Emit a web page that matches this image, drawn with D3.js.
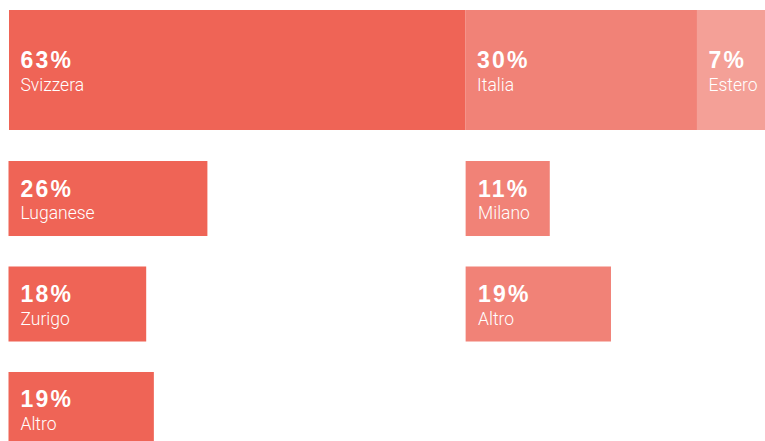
<!DOCTYPE html>
<html>
<head>
<meta charset="utf-8">
<script src="https://cdn.jsdelivr.net/npm/d3@7"></script>
<style>
html,body{margin:0;padding:0;background:#fff;}
svg{display:block;}
</style>
</head>
<body>
<svg id="chart" width="765" height="441"></svg>
<script>
// Top bar: origin of visitors
const topCategories = ["Svizzera", "Italia", "Estero"];
const topValues = [63, 30, 7];            // printed labels
const topDrawnShares = [60.4, 30.6, 9.0]; // segment widths as drawn in the picture
// Left column: breakdown of Svizzera
const leftCategories = ["Luganese", "Zurigo", "Altro"];
const leftValues = [26, 18, 19];
// Right column: breakdown of Italia
const rightCategories = ["Milano", "Altro"];
const rightValues = [11, 19];

const colors = {Svizzera: "#ef6456", Italia: "#f18277", Estero: "#f4a097"};

const svg = d3.select("#chart");
const W = 765;

// scales
const xTop = d3.scaleLinear().domain([0, 100]).range([9, W]);
const xSub = d3.scaleLinear().domain([0, 100]).range([0, W]);
const yRow = d3.scaleBand().domain([0, 1, 2]).range([161, 447]).paddingInner(0.289).paddingOuter(0);

const pctFont = "'Liberation Sans', Arial, sans-serif";
const lblFont = "Roboto, 'Liberation Sans', sans-serif";

function label(g, x, yCenter, pct, name) {
  g.append("text")
    .attr("x", x).attr("y", yCenter - 2)
    .attr("fill", "#fff")
    .attr("font-family", pctFont)
    .attr("font-weight", "bold")
    .attr("font-size", 23)
    .attr("letter-spacing", 2.2)
    .text(pct + "%");
  g.append("text")
    .attr("x", x).attr("y", yCenter + 20.5)
    .attr("fill", "#fff")
    .attr("font-family", lblFont)
    .attr("font-weight", 300)
    .attr("font-size", 17.5)
    .text(name);
}

// top stacked bar
let cum = 0;
const topData = topCategories.map((c, i) => {
  const d = {cat: c, value: topValues[i], x0: cum, x1: cum + topDrawnShares[i]};
  cum += topDrawnShares[i];
  return d;
});
const topY = 10, topH = 120;
const gTop = svg.append("g");
gTop.selectAll("rect").data(topData).join("rect")
  .attr("x", d => xTop(d.x0))
  .attr("y", topY)
  .attr("width", d => xTop(d.x1) - xTop(d.x0))
  .attr("height", topH)
  .attr("fill", d => colors[d.cat]);
topData.forEach(d => label(gTop, xTop(d.x0) + 11.5, topY + topH / 2, d.value, d.cat));

// left column
const leftX0 = xTop(0) - 0.5;
const gLeft = svg.append("g");
leftCategories.forEach((c, i) => {
  gLeft.append("rect")
    .attr("x", leftX0).attr("y", yRow(i))
    .attr("width", xSub(leftValues[i]))
    .attr("height", yRow.bandwidth())
    .attr("fill", colors.Svizzera);
  label(gLeft, leftX0 + 12, yRow(i) + yRow.bandwidth() / 2, leftValues[i], c);
});

// right column (starts under Italia segment)
const rightX0 = xTop(topData[1].x0);
const gRight = svg.append("g");
rightCategories.forEach((c, i) => {
  gRight.append("rect")
    .attr("x", rightX0).attr("y", yRow(i))
    .attr("width", xSub(rightValues[i]))
    .attr("height", yRow.bandwidth())
    .attr("fill", colors.Italia);
  label(gRight, rightX0 + 12.5, yRow(i) + yRow.bandwidth() / 2, rightValues[i], c);
});
</script>
</body>
</html>
